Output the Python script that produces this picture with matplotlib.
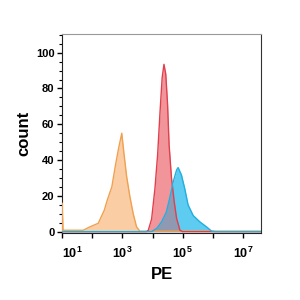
import numpy as np
import matplotlib
matplotlib.use("Agg")
import matplotlib.pyplot as plt
from matplotlib.ticker import LogLocator, FixedLocator, AutoMinorLocator, NullFormatter

plt.rcParams['font.family'] = ['Liberation Sans', 'DejaVu Sans']
plt.rcParams['mathtext.fontset'] = 'custom'
plt.rcParams['mathtext.bf'] = 'Liberation Sans:bold'
plt.rcParams['mathtext.rm'] = 'Liberation Sans'

# histogram outlines, x given as log10(PE)
orange_x = [1.0, 1.0, 1.03, 1.06, 1.7, 1.9, 2.2, 2.4, 2.5, 2.65, 2.78, 2.88, 2.98,
            3.05, 3.14, 3.25, 3.36, 3.47, 3.58, 7.6]
orange_y = [0, 16, 1, 0.8, 0.8, 2.5, 4.7, 12, 17.7, 25, 38, 47, 55,
            44, 31, 19.5, 10, 2.7, 0.3, 0.3]

red_x = [1.0, 3.8, 3.86, 3.97, 4.08, 4.17, 4.25, 4.32, 4.38, 4.44, 4.50, 4.55,
         4.63, 4.72, 4.80, 4.91, 5.0, 7.6]
red_y = [0, 0, 0.8, 7, 24, 43, 67, 86, 93.5, 88, 71, 48.6,
         30, 16.7, 7.4, 0.8, 0, 0]

blue_x = [1.0, 3.97, 4.15, 4.30, 4.46, 4.57, 4.69, 4.80, 4.85, 4.96, 5.07, 5.18,
          5.35, 5.57, 5.79, 5.96, 6.1, 7.6]
blue_y = [0, 0, 2, 5.5, 11, 18.7, 28, 34.5, 35.8, 31.7, 24, 15,
          9, 5.5, 2.7, 0.3, 0, 0]

major_ticks = [1e1, 1e2, 1e3, 1e4, 1e5, 1e6, 1e7]
tick_labels = [r'$\mathbf{10^{1}}$', '', r'$\mathbf{10^{3}}$', '',
               r'$\mathbf{10^{5}}$', '', r'$\mathbf{10^{7}}$']

fig = plt.figure(figsize=(3, 3), dpi=100)
ax = fig.add_axes([0.207, 0.223, 0.663, 0.664])

ox = 10 ** np.array(orange_x)
rx = 10 ** np.array(red_x)
bx = 10 ** np.array(blue_x)

ax.fill_between(ox, orange_y, color='#FACDA4', lw=0, zorder=1)
ax.fill_between(rx, red_y, color='#F2959B', lw=0, zorder=2)
ax.fill_between(bx, blue_y, color='#5ECBF0', lw=0, zorder=3)

# overlap of red and blue shows grey
grid = np.linspace(1.0, 7.6, 2000)
overlap = np.minimum(np.interp(grid, red_x, red_y), np.interp(grid, blue_x, blue_y))
ax.fill_between(10 ** grid, overlap, color='#8F9AB2', lw=0, zorder=4)

ax.plot(ox, orange_y, color='#F0A04E', lw=1.0, zorder=5)
ax.plot(rx, red_y, color='#E0404C', lw=1.0, zorder=5)
ax.plot(bx, blue_y, color='#22AEE0', lw=1.0, zorder=6)

ax.set_xscale('log')
ax.set_xlim(10 ** 1.0, 10 ** 7.6)
ax.set_ylim(-0.8, 110.5)

ax.xaxis.set_major_locator(FixedLocator(major_ticks))
ax.set_xticklabels(tick_labels)
ax.xaxis.set_minor_locator(LogLocator(base=10, subs=np.arange(2, 10)))
ax.xaxis.set_minor_formatter(NullFormatter())

ax.set_yticks([0, 20, 40, 60, 80, 100])
ax.yaxis.set_minor_locator(AutoMinorLocator(4))
ax.tick_params(axis='both', which='major', direction='out', length=3.5, width=1,
               labelsize=8, pad=2)
ax.tick_params(axis='both', which='minor', direction='out', length=2, width=0.8)
ax.tick_params(axis='x', which='major', pad=6, labelsize=9)
for lab in ax.get_yticklabels():
    lab.set_fontweight('bold')
ax.get_xticklabels()[0].set_horizontalalignment('left')

ax.spines['left'].set_color('#222222')
ax.spines['bottom'].set_color('#222222')
ax.spines['top'].set_color('#999999')
ax.spines['right'].set_color('#333333')

ax.set_xlabel('PE', fontsize=12, fontweight='bold', labelpad=4)
ax.set_ylabel('count', fontsize=12, fontweight='bold', labelpad=3)

fig.savefig('out.png', dpi=100)
